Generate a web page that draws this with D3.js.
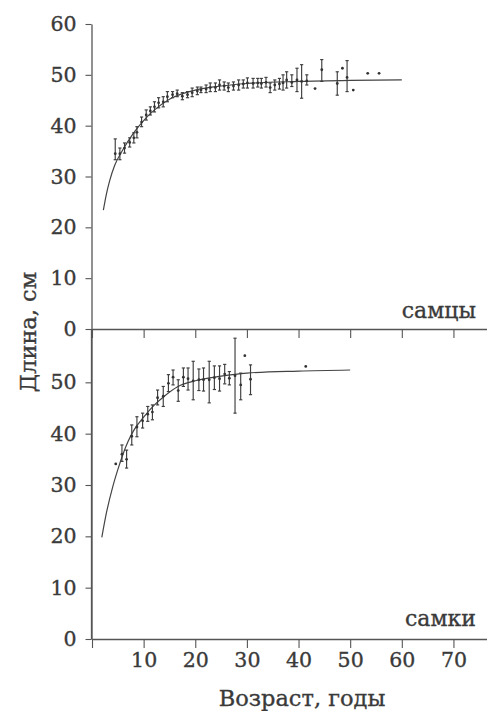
<!DOCTYPE html>
<html>
<head>
<meta charset="utf-8">
<script src="https://cdn.jsdelivr.net/npm/d3@7"></script>
<style>
  html, body { margin: 0; padding: 0; background: #fff; }
  svg { display: block; }
</style>
</head>
<body>
<div id="chart"></div>
<script>
// males (самцы): age, mean length, error bar low/high
const maleAge  = [4.5,5.4,6.3,7.3,8.1,8.7,9.6,10.5,11.3,12.1,12.9,13.8,14.6,15.6,16.5,17.5,18.5,19.4,20.4,21.1,22.1,22.9,23.9,24.7,25.6,26.4,27.4,28.4,29.3,30.1,31.2,32.1,32.8,33.7,34.5,35.4,36.3,37.0,37.7,38.7,39.7,40.6,41.6,43.2,44.5,47.5,48.5,49.4,50.6,53.4,55.6];
const maleMean = [34.5,34.5,35.6,36.7,37.6,38.7,40.7,42.1,42.9,43.7,44.5,44.7,45.7,46.1,46.3,45.8,46.1,46.5,46.8,47.0,47.2,47.5,47.5,48.0,47.8,47.5,47.8,48.0,48.2,48.4,48.3,48.4,48.3,48.5,47.5,48.0,48.2,48.4,49.0,48.5,49.0,48.7,48.8,47.3,51.0,48.3,51.3,49.5,47.0,50.3,50.3];
const maleLo   = [33.3,33.3,34.6,35.8,36.6,37.6,39.8,41.1,42.1,42.7,43.5,43.7,44.7,45.5,45.7,45.1,45.5,45.7,46.1,46.5,46.5,46.7,46.7,47.0,47.0,46.7,47.0,47.0,47.4,47.4,47.4,47.6,47.4,47.6,46.5,47.0,47.2,47.0,47.4,47.7,46.7,45.4,48.0,47.3,48.7,46.0,51.3,46.7,47.0,50.3,50.3];
const maleHi   = [37.4,35.6,36.6,37.6,38.6,39.8,41.7,43.1,43.7,44.7,45.5,45.7,46.7,46.7,47.0,46.5,46.7,47.4,47.6,47.6,48.0,48.4,48.4,49.0,48.6,48.4,48.6,49.0,49.0,49.4,49.3,49.3,49.3,49.5,48.4,49.0,49.3,50.0,50.6,50.0,51.3,52.0,50.0,47.3,53.0,50.6,51.3,52.8,47.0,50.3,50.3];
const maleCurveAge = [2.2,2.8,3.4,4.4,6,8,10,12,15,20,25,30,40,50,60];
const maleCurveLen = [23.4,26.6,29.1,32.2,35.3,38.5,41,43,45.2,47,47.8,48.3,48.7,48.9,49];

// females (самки)
const femaleAge  = [4.6,5.8,6.7,7.7,8.7,9.8,10.8,11.7,12.7,13.8,14.8,15.7,16.7,17.7,18.6,19.6,20.7,21.6,22.7,23.7,24.7,25.7,26.6,27.7,28.8,29.6,30.7,41.4];
const femaleMean = [34.1,36.0,35.0,39.5,41.3,42.5,43.8,44.2,47.0,47.3,49.8,51.0,48.4,51.0,50.7,50.3,50.5,50.5,50.5,50.9,50.7,51.6,50.8,51.3,49.5,55.2,50.6,53.1];
const femaleLo   = [34.1,34.6,33.3,37.8,39.4,41.1,42.4,42.7,45.6,45.3,48.2,49.5,46.3,49.2,48.5,46.6,48.4,48.3,46.0,48.6,48.3,49.7,49.5,44.0,46.6,55.2,47.6,53.1];
const femaleHi   = [34.1,37.8,36.8,41.7,43.3,44.0,45.3,45.6,48.5,49.2,51.5,52.4,50.5,52.8,52.8,54.1,52.6,52.8,54.1,53.2,53.2,53.5,52.1,58.6,51.8,55.2,53.4,53.1];
const femaleCurveAge = [1.9,2.8,4,5,6,7,8,10,12,14,16.5,20,25,30,40,50];
const femaleCurveLen = [19.8,24.6,29.6,33,36,38.5,40.5,43.2,45.5,47.3,49.1,50.3,51.2,51.8,52.2,52.4];

const xTicks = [0,10,20,30,40,50,60,70];
const yTicksTop = [0,10,20,30,40,50,60];
const yTicksBottom = [0,10,20,30,40,50];

const width = 487, height = 711;
const ink = '#3a3a3a', lineInk = '#555';
const font = '"DejaVu Serif", serif';

const svg = d3.select('#chart').append('svg')
  .attr('width', width).attr('height', height)
  .attr('font-family', font);

const x = d3.scaleLinear().domain([0, 76.5]).range([92, 487]);
const yTop = d3.scaleLinear().domain([0, 60]).range([329, 24]);
const yBot = d3.scaleLinear().domain([0, 60]).range([639, 331]);

// slightly heavier text, like the printed original
function inkText(sel) {
  sel.attr('fill', ink).attr('stroke', ink).attr('stroke-width', 0.35);
}

function styleAxis(g) {
  g.select('.domain').attr('stroke', lineInk).attr('stroke-width', 1.3);
  g.selectAll('.tick line').attr('stroke', lineInk).attr('stroke-width', 1.1);
  g.selectAll('.tick text').attr('font-size', 20.5).attr('font-family', font).call(inkText);
}

// y axes
svg.append('g').attr('transform', 'translate(91.5,0)')
  .call(d3.axisLeft(yTop).tickValues(yTicksTop).tickSize(6).tickPadding(9).tickSizeOuter(0))
  .call(styleAxis);
svg.append('g').attr('transform', 'translate(91.5,0)')
  .call(d3.axisLeft(yBot).tickValues(yTicksBottom).tickSize(6).tickPadding(9).tickSizeOuter(0))
  .call(styleAxis);
// connect both y axes
svg.append('line')
  .attr('x1', 91.5).attr('x2', 91.5)
  .attr('y1', yTop(0)).attr('y2', yBot(0))
  .attr('stroke', lineInk).attr('stroke-width', 1.3);

// x axes
svg.append('g').attr('transform', `translate(0,${yTop(0)})`)
  .call(d3.axisBottom(x).tickValues(xTicks).tickSize(9).tickSizeOuter(0).tickFormat(''))
  .call(styleAxis);
svg.append('g').attr('transform', `translate(0,${yBot(0)})`)
  .call(d3.axisBottom(x).tickValues(xTicks).tickSize(9).tickPadding(4).tickSizeOuter(0)
    .tickFormat(d => d === 0 ? '' : d))
  .call(styleAxis);

function panel(y, ages, mean, lo, hi, cAge, cLen) {
  const g = svg.append('g');
  const line = d3.line().curve(d3.curveMonotoneX)
    .x(d => x(d[0])).y(d => y(d[1]));
  g.append('path')
    .attr('d', line(cAge.map((a, i) => [a, cLen[i]])))
    .attr('fill', 'none').attr('stroke', '#444').attr('stroke-width', 1.2);

  const pts = ages.map((a, i) => ({ a, m: mean[i], lo: lo[i], hi: hi[i] }));
  const bars = pts.filter(d => d.hi > d.lo);
  const eb = g.append('g').attr('stroke', '#3d3d3d').attr('stroke-width', 1.15);
  eb.selectAll('line.v').data(bars).join('line').attr('class', 'v')
    .attr('x1', d => x(d.a)).attr('x2', d => x(d.a))
    .attr('y1', d => y(d.lo)).attr('y2', d => y(d.hi));
  eb.selectAll('line.t').data(bars).join('line').attr('class', 't')
    .attr('x1', d => x(d.a) - 1.6).attr('x2', d => x(d.a) + 1.6)
    .attr('y1', d => y(d.hi)).attr('y2', d => y(d.hi));
  eb.selectAll('line.b').data(bars).join('line').attr('class', 'b')
    .attr('x1', d => x(d.a) - 1.6).attr('x2', d => x(d.a) + 1.6)
    .attr('y1', d => y(d.lo)).attr('y2', d => y(d.lo));
  g.selectAll('circle').data(pts).join('circle')
    .attr('cx', d => x(d.a)).attr('cy', d => y(d.m)).attr('r', 1.4)
    .attr('fill', '#333');
}

panel(yTop, maleAge, maleMean, maleLo, maleHi, maleCurveAge, maleCurveLen);
panel(yBot, femaleAge, femaleMean, femaleLo, femaleHi, femaleCurveAge, femaleCurveLen);

// labels
svg.append('text').attr('x', 476).attr('y', 318).attr('text-anchor', 'end')
  .attr('font-size', 22).call(inkText).text('самцы');
svg.append('text').attr('x', 476).attr('y', 626).attr('text-anchor', 'end')
  .attr('font-size', 22).call(inkText).text('самки');
svg.append('text').attr('x', 302).attr('y', 706).attr('text-anchor', 'middle')
  .attr('font-size', 22.5).call(inkText).text('Возраст, годы');
svg.append('text').attr('transform', 'translate(36,332) rotate(-90)')
  .attr('text-anchor', 'middle')
  .attr('font-size', 22.5).call(inkText).text('Длина, см');
</script>
</body>
</html>
